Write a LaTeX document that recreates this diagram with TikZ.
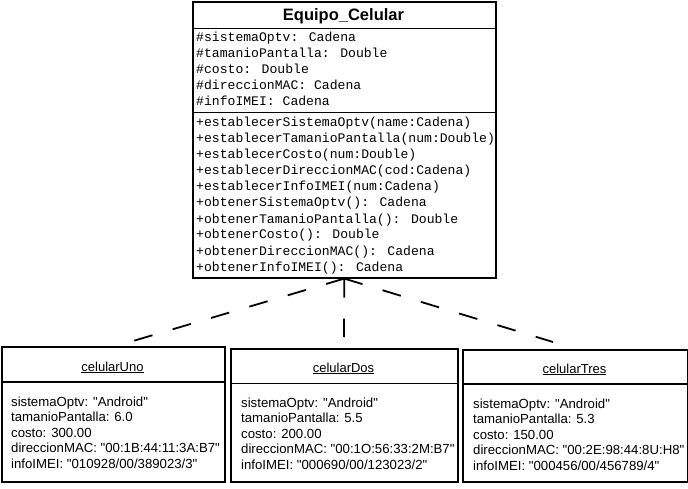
\documentclass[tikz,border=0pt]{standalone}
\usepackage{fontspec}
\setmainfont{Liberation Sans}
\newfontfamily\monof{Liberation Mono}
\newcommand\dq{\textquotedbl}
\begin{document}
\begin{tikzpicture}[x=1pt,y=-1pt,
  box/.style={draw, line width=1.6pt, inner sep=0pt, anchor=north west},
  divider/.style={line width=1.6pt},
  mono/.style={font=\monof\fontsize{13.1pt}{16pt}\selectfont, anchor=base west, inner sep=0pt},
  ttl/.style={font=\bfseries\fontsize{16.5pt}{20pt}\selectfont, anchor=base, inner sep=0pt},
  otitle/.style={font=\fontsize{13pt}{15pt}\selectfont, anchor=base, inner sep=0pt},
  otext/.style={font=\fontsize{13.2pt}{15pt}\selectfont, anchor=base west, inner sep=0pt},
  dep/.style={line width=1.8pt, dash pattern=on 19pt off 21pt}]
\useasboundingbox (0,0) rectangle (688,489);
\fill[white] (0,0) rectangle (688,489);

% class box
\node[box, minimum width=303pt, minimum height=276pt] (cls) at (192,1) {};
\draw[divider] (192,28.5) -- (495,28.5);
\draw[divider] (192,112.5) -- (495,112.5);
\node[ttl] (title) at (343.5,21) {Equipo\_Celular};
\foreach \t [count=\i] in {{\#sistemaOptv: Cadena},{\#tamanioPantalla: Double},{\#costo: Double},{\#direccionMAC: Cadena},{\#infoIMEI: Cadena}}
  \node[mono] (a\i) at (196,{42+16*(\i-1)}) {\t};
\foreach \t [count=\i] in {{+establecerSistemaOptv(name:Cadena)},{+establecerTamanioPantalla(num:Double)},{+establecerCosto(num:Double)},{+establecerDireccionMAC(cod:Cadena)},{+establecerInfoIMEI(num:Cadena)},{+obtenerSistemaOptv(): Cadena},{+obtenerTamanioPantalla(): Double},{+obtenerCosto(): Double},{+obtenerDireccionMAC(): Cadena},{+obtenerInfoIMEI(): Cadena}}
  \node[mono] (m\i) at (196,{127+16*(\i-1)}) {\t};

% object boxes
\node[box, minimum width=223pt, minimum height=135pt] (uno) at (1,346) {};
\draw[divider] (1,382) -- (224,382);
\node[otitle] (unoT) at (112.5,371) {\underline{celularUno}};
\foreach \t [count=\i] in {{sistemaOptv: \dq Android\dq},{tamanioPantalla: 6.0},{costo: 300.00},{direccionMAC: \dq 00:1B:44:11:3A:B7\dq},{infoIMEI: \dq 010928/00/389023/3\dq}}
  \node[otext] (u\i) at (11,{406+15.5*(\i-1)}) {\t};

\node[box, minimum width=227pt, minimum height=133pt] (dos) at (230,348) {};
\draw[divider] (230,383.5) -- (457,383.5);
\node[otitle] (dosT) at (343.5,372) {\underline{celularDos}};
\foreach \t [count=\i] in {{sistemaOptv: \dq Android\dq},{tamanioPantalla: 5.5},{costo: 200.00},{direccionMAC: \dq 00:1O:56:33:2M:B7\dq},{infoIMEI: \dq 000690/00/123023/2\dq}}
  \node[otext] (d\i) at (241,{407+15.5*(\i-1)}) {\t};

\node[box, minimum width=225pt, minimum height=132pt] (tres) at (462,349) {};
\draw[divider] (462,384) -- (687,384);
\node[otitle] (tresT) at (574.5,373) {\underline{celularTres}};
\foreach \t [count=\i] in {{sistemaOptv: \dq Android\dq},{tamanioPantalla: 5.3},{costo: 150.00},{direccionMAC: \dq 00:2E:98:44:8U:H8\dq},{infoIMEI: \dq 000456/00/456789/4\dq}}
  \node[otext] (t\i) at (473,{408+15.5*(\i-1)}) {\t};

% dependency connectors
\coordinate (eu) at (133,341);
\coordinate (ed) at (344,337);
\coordinate (et) at (553,342);
\draw[dep] (cls.south) -- (eu);
\draw[dep] (cls.south) -- (ed);
\draw[dep] (cls.south) -- (et);
\end{tikzpicture}
\end{document}
